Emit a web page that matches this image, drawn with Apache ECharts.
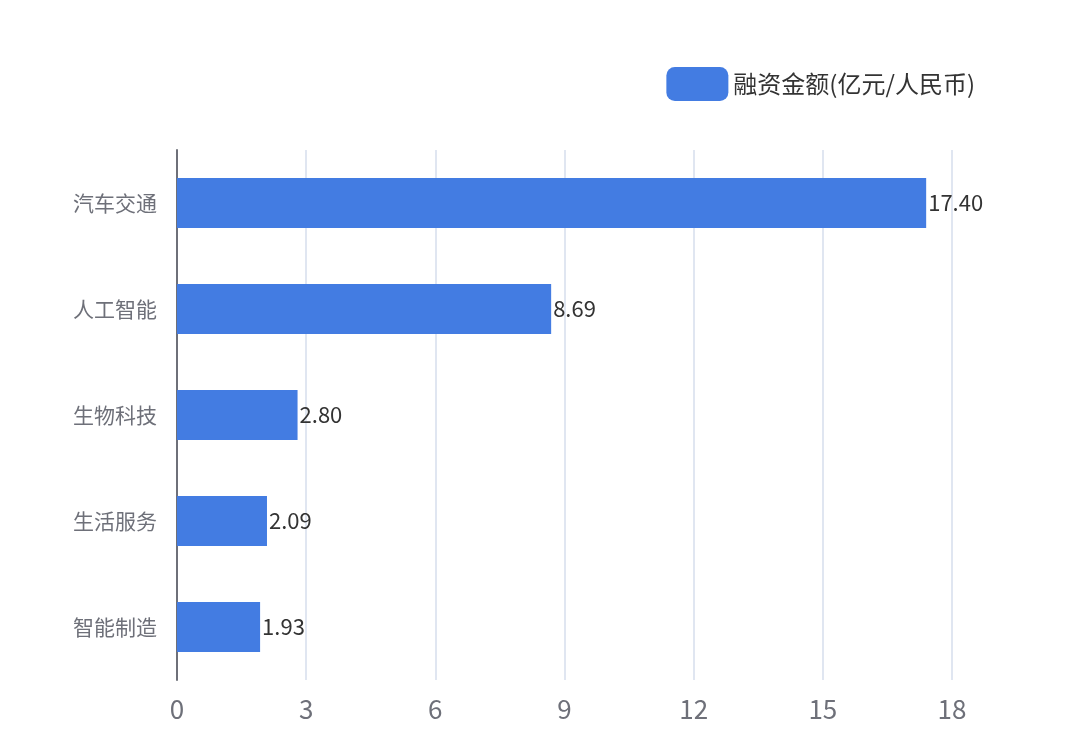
<!DOCTYPE html>
<html>
<head>
<meta charset="utf-8">
<script src="https://cdn.jsdelivr.net/npm/echarts@6/dist/echarts.min.js"></script>
<style>html,body{margin:0;padding:0;background:#fff}#main{width:1080px;height:753px}</style>
</head>
<body>
<div id="main"></div>
<script>
var categories = ['汽车交通', '人工智能', '生物科技', '生活服务', '智能制造'];
var amounts = [17.40, 8.69, 2.80, 2.09, 1.93];
var seriesName = '融资金额(亿元/人民币)';

var chart = echarts.init(document.getElementById('main'));
var option = {
    backgroundColor: '#fff',
    textStyle: { fontFamily: 'Noto Sans CJK SC' },
    legend: {
        data: [seriesName],
        right: 100,
        top: 62,
        itemWidth: 62,
        itemHeight: 34,
        itemGap: 12,
        textStyle: { fontSize: 24, color: '#333' }
    },
    grid: { left: 177, right: 128, top: 150, bottom: 73 },
    xAxis: {
        type: 'value',
        min: 0,
        max: 18,
        interval: 3,
        axisLine: { show: false },
        axisTick: { show: false },
        axisLabel: { fontSize: 26, color: '#6e7079', margin: 16 },
        splitLine: { lineStyle: { color: '#e0e6f1', width: 2 } }
    },
    yAxis: {
        type: 'category',
        inverse: true,
        data: categories,
        axisLine: { lineStyle: { color: '#6e7079', width: 2 } },
        axisTick: { length: 10, lineStyle: { width: 2 } },
        axisLabel: { fontSize: 21, color: '#6e7079', margin: 20 }
    },
    series: [
        {
            name: seriesName,
            type: 'bar',
            barWidth: 50,
            itemStyle: { color: '#437ce2' },
            label: {
                show: true,
                position: 'right',
                distance: 2,
                fontSize: 22,
                color: '#333',
                formatter: function (p) { return p.value.toFixed(2); }
            },
            data: amounts
        }
    ]
};
chart.setOption(option);
</script>
</body>
</html>
